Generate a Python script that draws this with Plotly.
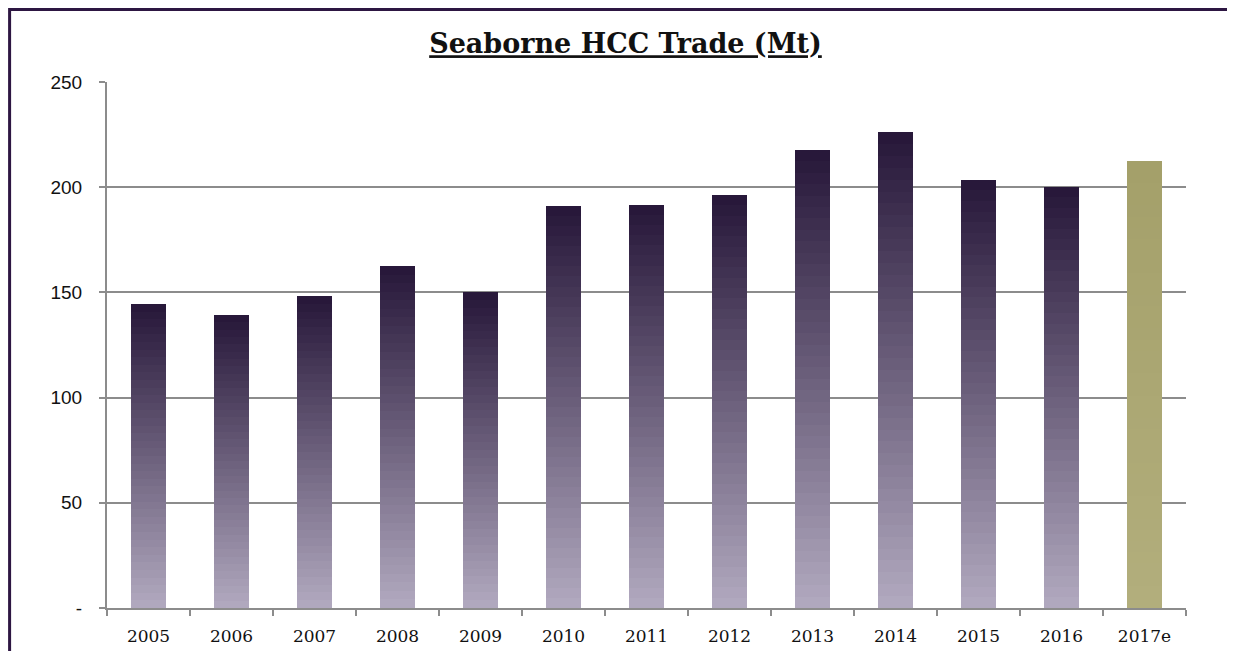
import numpy as np
import plotly.graph_objects as go

# ---- data ----
years = ["2005", "2006", "2007", "2008", "2009", "2010", "2011", "2012",
         "2013", "2014", "2015", "2016", "2017e"]
trade_mt = [144.5, 139.3, 148.3, 162.5, 150.2, 191.0, 191.5, 196.3,
            217.8, 226.2, 203.6, 200.3, 212.6]
estimate_flags = [False] * 12 + [True]
y_tickvals = [0, 50, 100, 150, 200, 250]
y_ticktext = ["-", "50", "100", "150", "200", "250"]

# ---- styling helpers (gradient fill simulated with stacked slices) ----
N_SLICES = 40
purple_bottom = np.array([176, 168, 190])
purple_top = np.array([40, 24, 58])
olive_bottom = np.array([178, 174, 124])
olive_top = np.array([164, 160, 106])


def mix(a, b, t):
    c = a + (b - a) * t
    return "rgb(%d,%d,%d)" % tuple(int(round(v)) for v in c)


vals = np.array(trade_mt, dtype=float)
fig = go.Figure()
for i in range(N_SLICES):
    t = i / (N_SLICES - 1)
    colors = [mix(olive_bottom, olive_top, t) if est else mix(purple_bottom, purple_top, t)
              for est in estimate_flags]
    fig.add_trace(go.Bar(
        x=years, y=vals / N_SLICES,
        marker=dict(color=colors, line=dict(width=0)),
        showlegend=False, hoverinfo="skip",
    ))

# plot area in screen pixels: x 107..1186, y 82..608
fig.update_layout(
    barmode="stack",
    bargap=0.59,
    width=1235, height=651,
    margin=dict(l=99, r=57, t=74, b=51),
    paper_bgcolor="white", plot_bgcolor="white",
    title=dict(text="<b><u>Seaborne HCC Trade (Mt)</u></b>",
               x=0.5, xanchor="center", y=0.945, yanchor="middle",
               font=dict(family="DejaVu Serif", size=27, color="#111111")),
    xaxis=dict(type="category", showline=True, linecolor="#8c8c8c", linewidth=2,
               ticks="outside", tickson="boundaries", ticklen=6, tickwidth=2,
               tickcolor="#8c8c8c", showgrid=False, ticklabelstandoff=12,
               tickfont=dict(family="DejaVu Serif", size=17, color="#111111")),
    yaxis=dict(range=[0, 250], tickvals=y_tickvals, ticktext=y_ticktext,
               showline=True, linecolor="#8c8c8c", linewidth=2,
               ticks="outside", ticklen=6, tickwidth=2, tickcolor="#8c8c8c",
               showgrid=True, gridcolor="#8c8c8c", gridwidth=2,
               zeroline=False, ticklabelstandoff=13,
               tickfont=dict(family="Liberation Sans", size=19, color="#111111")),
    shapes=[dict(type="rect", xref="paper", yref="paper",
                 x0=(9.6 - 107) / 1079, x1=1.2, y0=-0.3, y1=(608 - 9.6) / 526,
                 line=dict(color="#2d1642", width=3), fillcolor="rgba(0,0,0,0)",
                 layer="above")],
)

fig.write_html("out.html")
